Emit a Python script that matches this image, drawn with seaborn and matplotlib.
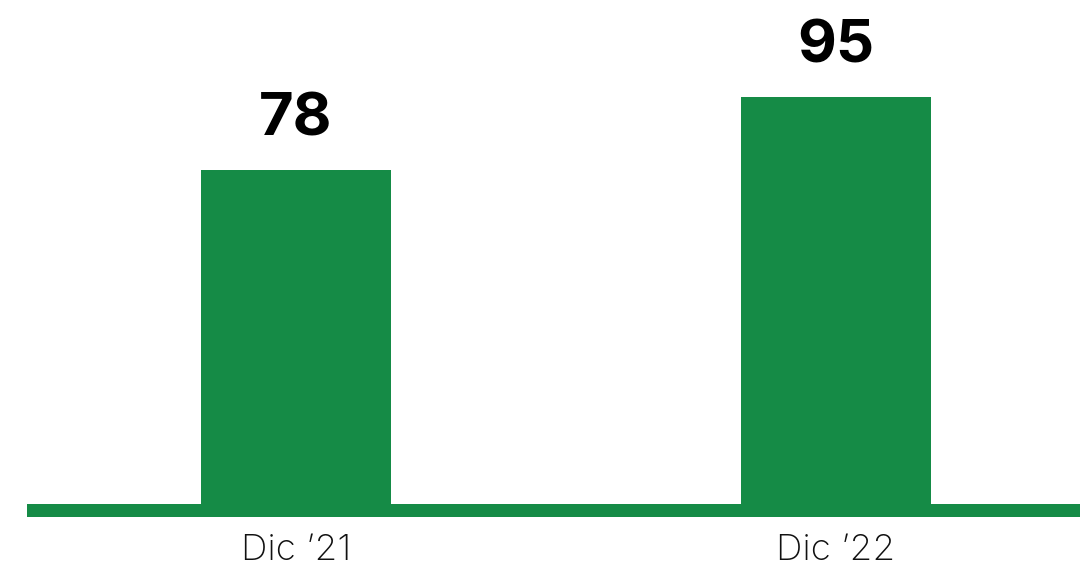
import pandas as pd
import seaborn as sns
import matplotlib.pyplot as plt

periods = ["Dic \u201921", "Dic \u201922"]
values = [78, 95]

green = "#158B46"

sns.set_theme(style="white")
plt.rcParams["font.family"] = ["Inter", "DejaVu Sans"]

df = pd.DataFrame({"period": periods, "value": values})

fig = plt.figure(figsize=(10.8, 5.7), dpi=100)
# axes spans pixel x 27..1080, y (from top) 0..520
ax = fig.add_axes([27 / 1080, 50 / 570, 1053 / 1080, 520 / 570])

sns.barplot(data=df, x="period", y="value", color=green, saturation=1,
            width=0.352, linewidth=0, ax=ax)

px_per_unit = 4.28
ax.set_xlim(-0.498, 1.452)
ax.set_ylim(-(520 - 504) / px_per_unit, 504 / px_per_unit)

# thick baseline
ax.axhspan(-13 / px_per_unit, 0, xmin=0, xmax=1, color=green, lw=0)

for i, v in enumerate(values):
    ax.annotate(str(v), (i, v), xytext=(0, 25), textcoords="offset points",
                ha="center", va="baseline", fontsize=43, fontweight="bold",
                color="black")

ax.set_xlabel("")
ax.set_ylabel("")
ax.set_yticks([])
ax.tick_params(axis="x", length=0, pad=10, labelsize=26.5, labelcolor="#111111")
for lbl in ax.get_xticklabels():
    lbl.set_fontweight("light")
sns.despine(ax=ax, left=True, bottom=True)

fig.savefig("out.png", dpi=100)
